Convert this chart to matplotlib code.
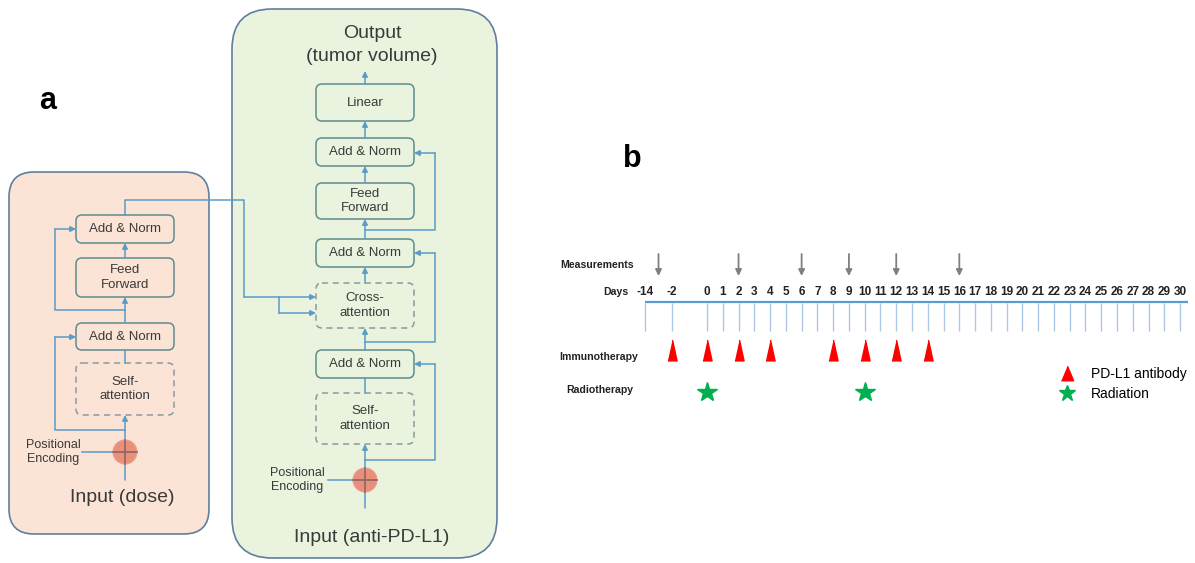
import matplotlib
matplotlib.use("Agg")
import matplotlib.pyplot as plt
import numpy as np
from matplotlib.patches import FancyBboxPatch, Circle
from matplotlib.lines import Line2D
from matplotlib import font_manager

# ---------- data ----------
# panel a: layer names, bottom to top
enc_layers = ["Self-\nattention", "Add & Norm", "Feed\nForward", "Add & Norm"]
enc_dashed = [True, False, False, False]
dec_layers = ["Self-\nattention", "Add & Norm", "Cross-\nattention", "Add & Norm",
              "Feed\nForward", "Add & Norm", "Linear"]
dec_dashed = [True, False, True, False, False, False, False]

# panel b: treatment schedule (days)
day_labels = [-14, -2] + list(range(0, 31))
measure_days = [-8, 2, 6, 9, 12, 16]
immuno_days = [-2, 0, 2, 4, 8, 10, 12, 14]
radio_days = [0, 10]
row_labels = ["Measurements", "Immunotherapy", "Radiotherapy"]
legend_labels = ["PD-L1 antibody", "Radiation"]

# ---------- layout (pixels) ----------
W, H = 1195, 563
enc_tops = [363, 323, 258, 215]
enc_bots = [415, 350, 297, 243]
dec_tops = [393, 350, 283, 239, 183, 138, 84]
dec_bots = [444, 378, 328, 267, 219, 166, 121]

LINE = "#5b9bc8"
BOXEDGE = "#5f8c8e"
DASHEDGE = "#8a9a9e"
TXT = "#3a3a3a"

names = {f.name for f in font_manager.fontManager.ttflist}
SANS = "Liberation Sans" if "Liberation Sans" in names else "DejaVu Sans"
NARROW = "Liberation Sans Narrow" if "Liberation Sans Narrow" in names else SANS
plt.rcParams["font.family"] = [SANS, "DejaVu Sans"]

fig = plt.figure(figsize=(W / 100, H / 100), dpi=100)
ax = fig.add_axes([0, 0, 1, 1])
ax.set_xlim(0, W)
ax.set_ylim(H, 0)
ax.axis("off")


def arrow(p0, p1):
    ax.annotate("", xy=p1, xytext=p0,
                arrowprops=dict(arrowstyle="-|>", color=LINE, lw=1.1,
                                mutation_scale=8, shrinkA=0, shrinkB=0))


def path(pts, head=True):
    xs, ys = zip(*pts)
    if head:
        ax.plot(xs[:-1], ys[:-1], color=LINE, lw=1.1)
        arrow(pts[-2], pts[-1])
    else:
        ax.plot(xs, ys, color=LINE, lw=1.1)


def panel(x0, x1, y0, y1, r, fc):
    ax.add_patch(FancyBboxPatch((x0, y0), x1 - x0, y1 - y0,
                                boxstyle=f"round,pad=0,rounding_size={r}",
                                fc=fc, ec="#5f7f9f", lw=1.2))


def stack(cx, tops, bots, labels, dashed):
    hw = 49
    for t, b, lab, d in zip(tops, bots, labels, dashed):
        ax.add_patch(FancyBboxPatch((cx - hw, t), 2 * hw, b - t,
                                    boxstyle="round,pad=0,rounding_size=6",
                                    fc="none", ec=DASHEDGE if d else BOXEDGE,
                                    lw=1.1, ls=(0, (4, 3)) if d else "-"))
        ax.text(cx, (t + b) / 2, lab, ha="center", va="center",
                fontsize=9.5, color=TXT, linespacing=1.25)
    for i in range(len(tops) - 1):
        path([(cx, tops[i]), (cx, bots[i + 1])],
             head=not labels[i].startswith("Self"))


def pos_enc(cx, cy, line_x0, text_x):
    ax.plot([line_x0, cx], [cy, cy], color=LINE, lw=1.1)
    ax.add_patch(Circle((cx, cy), 12, fc="#e8907a", ec="#eaa090", lw=0.8, zorder=3))
    ax.plot([cx - 12, cx + 12], [cy, cy], color="#8c6464", lw=1.2, zorder=4)
    ax.plot([cx, cx], [cy - 12, cy + 12], color="#8c6464", lw=1.2, zorder=4)
    ax.text(text_x, cy, "Positional\nEncoding", ha="center", va="center",
            fontsize=9, color=TXT, linespacing=1.3)


# ---------- panel a ----------
panel(9, 209, 172, 534, 25, "#fbe4d5")
panel(232, 497, 9, 558, 40, "#e9f3de")

# encoder
stack(125, enc_tops, enc_bots, enc_layers, enc_dashed)
path([(125, 480), (125, enc_bots[0])])
pos_enc(125, 452, 82, 53)
path([(125, 430), (55, 430), (55, 337), (76, 337)])
path([(125, 310), (55, 310), (55, 229), (76, 229)])
ax.text(122, 498, "Input (dose)", ha="center", va="center", fontsize=14, color=TXT)

# decoder
stack(365, dec_tops, dec_bots, dec_layers, dec_dashed)
path([(365, 508), (365, dec_bots[0])])
pos_enc(365, 480, 328, 297)
path([(365, 460), (435, 460), (435, 364), (414, 364)])
path([(365, 342), (435, 342), (435, 253), (414, 253)])
path([(365, 230), (435, 230), (435, 153), (414, 153)])
path([(365, dec_tops[-1]), (365, 71)])
ax.text(372, 537, "Input (anti-PD-L1)", ha="center", va="center", fontsize=14, color=TXT)
ax.text(372, 45, "Output\n(tumor volume)", ha="center", va="center", fontsize=14,
        color=TXT, linespacing=1.45)

# encoder -> cross-attention
path([(125, enc_tops[-1]), (125, 200), (244, 200), (244, 297), (316, 297)])
path([(279, 297), (279, 313), (316, 313)])

ax.text(48, 101, "a", ha="center", va="center", fontsize=22, fontweight="bold", color="black")
ax.text(632, 159, "b", ha="center", va="center", fontsize=22, fontweight="bold", color="black")

# ---------- panel b ----------
x_origin, px_per_day = 707, 15.77
left_px = 628.2
axb = fig.add_axes([left_px / W, 0, (W - left_px) / W, 1])
axb.set_xlim((left_px - x_origin) / px_per_day, (W - x_origin) / px_per_day)
axb.set_ylim(H, 0)
axb.axis("off")


def slot(d):
    # the axis is compressed before day 0
    return np.interp(d, [-14, -2, 0, 30], [-3.93, -2.22, 0, 30])


ticks = slot(np.array(day_labels))
axb.hlines(302, ticks[0], 30.5, color="#5b9bd5", lw=1.6)
axb.vlines(ticks, 303, 331, color="#a9c8e8", lw=1.0)
for d, s in zip(day_labels, ticks):
    axb.text(s, 292, str(d), ha="center", va="center", fontsize=8.5,
             fontweight="bold", family=[NARROW, "DejaVu Sans"], color="#222222")

for s in slot(np.array(measure_days)):
    axb.annotate("", xy=(s, 276), xytext=(s, 254),
                 arrowprops=dict(arrowstyle="-|>", color="#7f7f7f", lw=1.3,
                                 mutation_scale=9, shrinkA=0, shrinkB=0))

tri = [(-0.22, -0.5), (0.22, -0.5), (0, 0.5)]
axb.plot(slot(np.array(immuno_days)), [350] * len(immuno_days), ls="none",
         marker=tri, ms=15, color="#ff0000")
axb.plot(slot(np.array(radio_days)), [392] * len(radio_days), ls="none",
         marker="*", ms=15, color="#00b050")

ax.text(629, 292, "Days", ha="right", va="center", fontsize=7.6, fontweight="bold", color="#222222")
for lab, (x, y) in zip(row_labels, [(560, 265), (559, 357), (566, 390)]):
    ax.text(x, y, lab, ha="left", va="center", fontsize=7.6, fontweight="bold", color="#222222")

leg_tri = [(-0.42, -0.5), (0.42, -0.5), (0, 0.5)]
handles = [Line2D([], [], ls="none", marker=leg_tri, ms=10.5, color="#ff0000"),
           Line2D([], [], ls="none", marker="*", ms=12, color="#00b050")]
fig.legend(handles, legend_labels, loc="upper left",
           bbox_to_anchor=(1060 / W, 1 - 367 / H), frameon=False,
           fontsize=10, handlelength=1.0, handletextpad=1.2,
           labelspacing=0.45, borderpad=0, borderaxespad=0)

fig.savefig("out.png", dpi=100)
